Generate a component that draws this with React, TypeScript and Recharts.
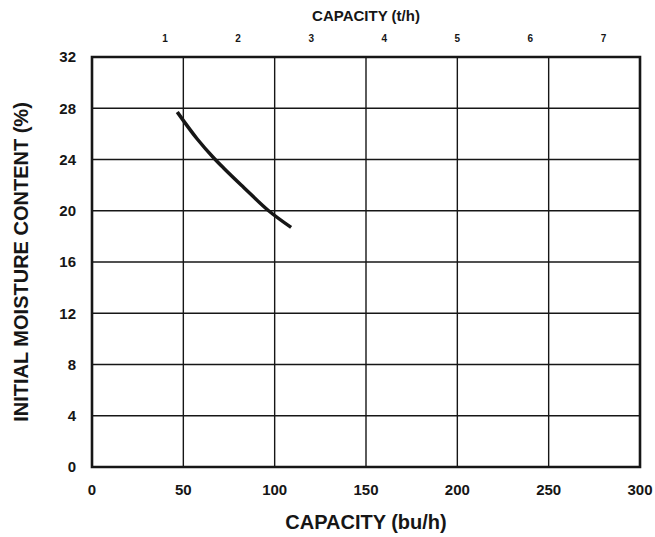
import { CartesianGrid, Label, Line, LineChart, ReferenceArea, XAxis, YAxis } from "recharts";

// capacity in bu/h vs initial moisture content in %
const capacityBu = [46.7, 57.6, 66.8, 72.3, 83.2, 96.7, 109];
const moisture = [27.7, 25.6, 24.1, 23.3, 21.8, 20.0, 18.7];

const buTicks = [0, 50, 100, 150, 200, 250, 300];
const tonTicks = [1, 2, 3, 4, 5, 6, 7];
const moistureTicks = [0, 4, 8, 12, 16, 20, 24, 28, 32];

// the chart's second scale: about 40 bu per tonne
const BU_PER_T = 40;

const data = capacityBu.map((c, i) => ({ bu: c, t: c / BU_PER_T, mc: moisture[i] }));

const FONT = "'Liberation Sans', Arial, sans-serif";
const INK = "#161616";

export default function App() {
  return (
    <div style={{ position: "absolute", left: 0, top: 0, background: "#fff" }}>
      <LineChart
        width={655}
        height={537}
        data={data}
        margin={{ top: 27, right: 15, bottom: 40, left: 0 }}
        style={{ fontFamily: FONT }}
      >
        <CartesianGrid xAxisId="bu" stroke={INK} strokeWidth={1.4} />
        <XAxis
          xAxisId="bu"
          dataKey="bu"
          type="number"
          domain={[0, 300]}
          allowDataOverflow
          ticks={buTicks}
          height={30}
          axisLine={false}
          tickLine={false}
          tick={{ fill: INK, fontSize: 15, fontWeight: 700 }}
          tickMargin={11}
        >
          <Label value="CAPACITY (bu/h)" position="bottom" offset={18} style={{ fill: INK, fontSize: 20, fontWeight: 700 }} />
        </XAxis>
        <XAxis
          xAxisId="t"
          dataKey="t"
          orientation="top"
          type="number"
          domain={[0, 300 / BU_PER_T]}
          allowDataOverflow
          ticks={tonTicks}
          height={30}
          axisLine={false}
          tickLine={false}
          tick={{ fill: INK, fontSize: 10, fontWeight: 700 }}
          tickMargin={9}
        >
          <Label value="CAPACITY (t/h)" position="top" offset={6} style={{ fill: INK, fontSize: 15, fontWeight: 700 }} />
        </XAxis>
        <YAxis
          dataKey="mc"
          type="number"
          domain={[0, 32]}
          ticks={moistureTicks}
          width={92}
          axisLine={false}
          tickLine={false}
          tick={{ fill: INK, fontSize: 15, fontWeight: 700 }}
          tickMargin={10}
        >
          <Label
            value="INITIAL MOISTURE CONTENT (%)"
            angle={-90}
            position="insideLeft"
            offset={21}
            style={{ fill: INK, fontSize: 20, fontWeight: 700, textAnchor: "middle" }}
          />
        </YAxis>
        <ReferenceArea
          xAxisId="bu"
          x1={0}
          x2={300}
          y1={0}
          y2={32}
          fill="none"
          stroke={INK}
          strokeWidth={2.6}
          ifOverflow="visible"
        />
        <Line
          xAxisId="bu"
          dataKey="mc"
          type="monotone"
          stroke={INK}
          strokeWidth={3.5}
          dot={false}
          isAnimationActive={false}
        />
      </LineChart>
    </div>
  );
}
